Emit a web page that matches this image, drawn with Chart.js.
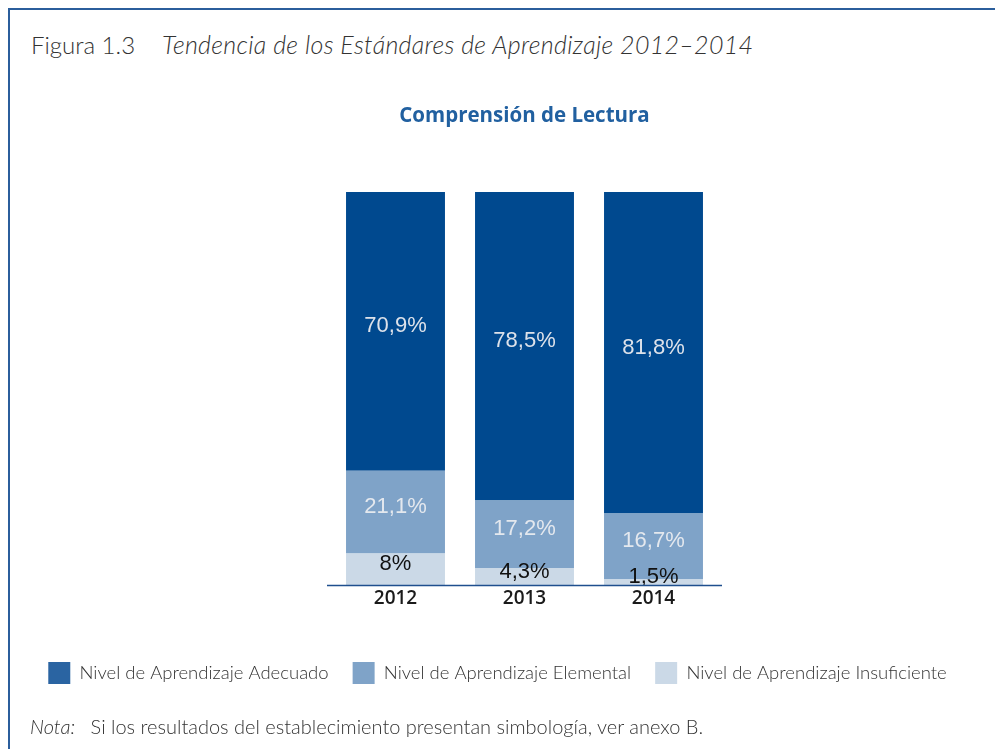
<!DOCTYPE html>
<html>
<head>
<meta charset="utf-8">
<script src="https://cdn.jsdelivr.net/npm/chart.js@4.4.1/dist/chart.umd.min.js"></script>
<style>
  html, body { margin: 0; padding: 0; background: #fff; }
  body { width: 995px; height: 749px; position: relative; overflow: hidden; font-family: Lato, "Open Sans", sans-serif; color: #333; }
  #frame { position: absolute; left: 8px; top: 8px; right: -4px; bottom: -4px; border-top: 2px solid #2b5e9c; border-left: 2px solid #2b5e9c; }
  #head { position: absolute; left: 31px; top: 29px; font-size: 24px; line-height: 30px; font-weight: 300; white-space: nowrap; }
  #head i { margin-left: 27px; font-size: 25px; letter-spacing: 0.3px; }
  #note { position: absolute; left: 30px; top: 713px; font-size: 20px; line-height: 26px; font-weight: 300; white-space: nowrap; }
  #note i { margin-right: 10px; }
  canvas { position: absolute; left: 0; top: 0; }
</style>
</head>
<body>
<div id="frame"></div>
<div id="head">Figura 1.3<i>Tendencia de los Estándares de Aprendizaje 2012–2014</i></div>
<canvas id="chart" width="995" height="749"></canvas>
<div id="note"><i>Nota:</i> Si los resultados del establecimiento presentan simbología, ver anexo B.</div>
<script>
  // data
  const years = ['2012', '2013', '2014'];
  const adecuado = [70.9, 78.5, 81.8];
  const elemental = [21.1, 17.2, 16.7];
  const insuficiente = [8, 4.3, 1.5];

  const fmt = v => String(v).replace('.', ',') + '%';

  // value labels in the middle of every segment, plus the blue baseline
  const segmentLabels = {
    id: 'segmentLabels',
    afterDatasetsDraw(chart) {
      const ctx = chart.ctx;
      ctx.save();
      ctx.font = '22px "Liberation Sans", Arial, sans-serif';
      ctx.textAlign = 'center';
      ctx.textBaseline = 'middle';
      chart.data.datasets.forEach((ds, i) => {
        chart.getDatasetMeta(i).data.forEach((bar, j) => {
          ctx.fillStyle = ds.labelColor;
          ctx.fillText(fmt(ds.data[j]), bar.x, (bar.y + bar.base) / 2 - 5);
        });
      });
      const a = chart.chartArea;
      ctx.strokeStyle = '#1f4f8e';
      ctx.lineWidth = 1.5;
      ctx.beginPath();
      ctx.moveTo(a.left - 4, a.bottom + 0.5);
      ctx.lineTo(a.right + 4, a.bottom + 0.5);
      ctx.stroke();
      ctx.restore();
    }
  };

  new Chart(document.getElementById('chart'), {
    type: 'bar',
    data: {
      labels: years,
      datasets: [
        { label: 'Nivel de Aprendizaje Insuficiente', data: insuficiente, backgroundColor: '#cbd9e7', legendColor: '#cbd9e7', labelColor: '#111' },
        { label: 'Nivel de Aprendizaje Elemental', data: elemental, backgroundColor: '#7fa3c8', legendColor: '#7fa3c8', labelColor: '#e4e8ee' },
        { label: 'Nivel de Aprendizaje Adecuado', data: adecuado, backgroundColor: '#00498f', legendColor: '#2a64a2', labelColor: '#dde2ea' }
      ]
    },
    options: {
      responsive: false,
      animation: false,
      layout: { padding: { top: 0, bottom: 55, left: 0, right: 0 } },
      datasets: { bar: { categoryPercentage: 1, barPercentage: 0.767 } },
      scales: {
        x: {
          stacked: true,
          grid: { display: false, drawTicks: false },
          border: { display: false },
          ticks: { color: '#1a1a1a', padding: 2, font: { family: '"Open Sans", sans-serif', size: 19, weight: '600' } },
          afterFit: s => { s.height = 53; }
        },
        y: {
          stacked: true, min: 0, max: 100,
          grid: { display: false }, border: { display: false },
          ticks: { display: false },
          afterFit: s => { s.width = 331; }
        },
        y2: {
          position: 'right',
          grid: { display: false }, border: { display: false },
          ticks: { display: false },
          afterFit: s => { s.width = 277; }
        }
      },
      plugins: {
        title: {
          display: true,
          fullSize: false,
          text: 'Comprensión de Lectura',
          color: '#2160a0',
          font: { family: '"Open Sans", sans-serif', size: 20.5, weight: 'bold', lineHeight: 1.2 },
          padding: { top: 104, bottom: 63.4 }
        },
        legend: {
          position: 'bottom',
          reverse: true,
          labels: {
            boxWidth: 22, boxHeight: 22, padding: 24,
            color: '#333',
            font: { family: 'Lato, "Open Sans", sans-serif', size: 18.5, weight: '300' },
            generateLabels: chart => Chart.defaults.plugins.legend.labels.generateLabels(chart).map(item => {
              const c = chart.data.datasets[item.datasetIndex].legendColor;
              return Object.assign(item, { fillStyle: c, strokeStyle: c, lineWidth: 0 });
            })
          }
        },
        tooltip: { enabled: false }
      }
    },
    plugins: [segmentLabels]
  });
</script>
</body>
</html>
